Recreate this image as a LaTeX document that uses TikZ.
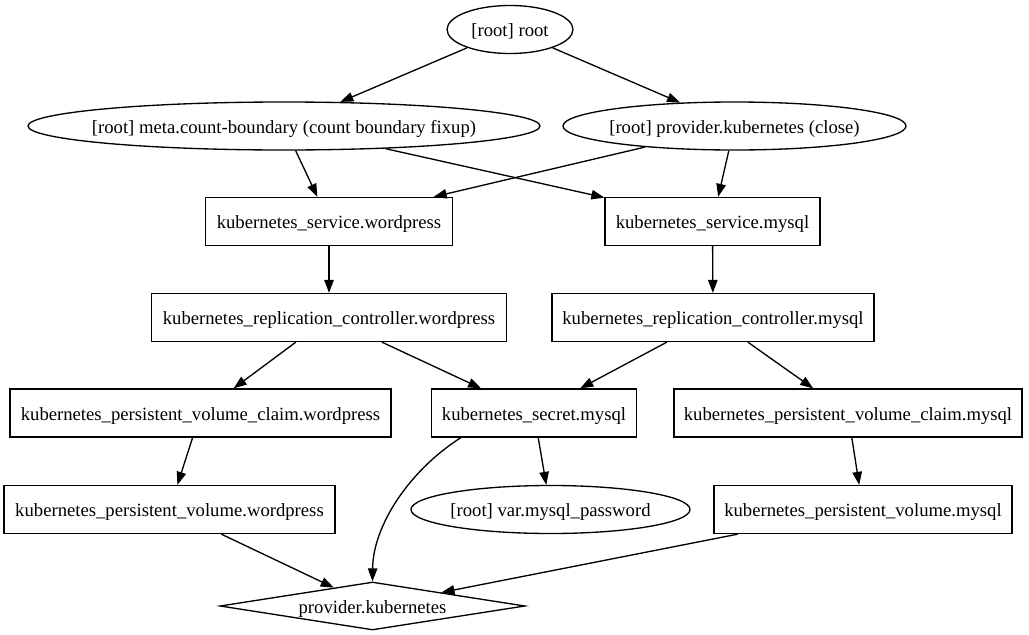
\documentclass[tikz,border=0pt]{standalone}
\usepackage{fontspec}
\setmainfont{Liberation Serif}
\usetikzlibrary{shapes.geometric,arrows.meta}
\begin{document}
\begin{tikzpicture}[x=1pt,y=-1pt,
  every node/.style={font=\fontsize{18.67}{22}\selectfont, line width=1.33pt, inner sep=0pt, text height=18pt, text depth=4pt},
  ell/.style={draw, ellipse, minimum height=48pt},
  boxn/.style={draw, rectangle, minimum height=48pt},
  dia/.style={draw, diamond, minimum height=48pt},
  edge/.style={line width=1.33pt, -{Triangle[length=13pt,width=9.5pt]}}
]
\fill[white] (0,0) rectangle (1029,635);
\useasboundingbox (0,0) rectangle (1029,635);

\node[ell, minimum width=126pt] (root) at (510,29.5) {\makebox[0pt]{[root] root}};
\node[ell, minimum width=512pt] (meta) at (284,126) {\makebox[0pt]{[root] meta.count-boundary (count boundary fixup)}};
\node[ell, minimum width=343pt] (pclose) at (734.5,126) {\makebox[0pt]{[root] provider.kubernetes (close)}};
\node[boxn, minimum width=247pt] (svcwp) at (329,221.5) {kubernetes\_service.wordpress};
\node[boxn, minimum width=215pt] (svcmy) at (712.5,221.5) {kubernetes\_service.mysql};
\node[boxn, minimum width=355pt] (rcwp) at (329,317.5) {kubernetes\_replication\_controller.wordpress};
\node[boxn, minimum width=322pt] (rcmy) at (713,317.5) {kubernetes\_replication\_controller.mysql};
\node[boxn, minimum width=381pt] (pvcwp) at (200.5,413) {kubernetes\_persistent\_volume\_claim.wordpress};
\node[boxn, minimum width=205pt] (secret) at (534,413) {kubernetes\_secret.mysql};
\node[boxn, minimum width=348pt] (pvcmy) at (848,413) {kubernetes\_persistent\_volume\_claim.mysql};
\node[boxn, minimum width=331pt] (pvwp) at (169.5,509.5) {kubernetes\_persistent\_volume.wordpress};
\node[ell, minimum width=279pt] (varpw) at (550.5,509.5) {\makebox[0pt]{[root] var.mysql\_password}};
\node[boxn, minimum width=298pt] (pvmy) at (863,509.5) {kubernetes\_persistent\_volume.mysql};
\node[dia, minimum width=305pt] (prov) at (372.5,606) {\makebox[0pt]{provider.kubernetes}};

\draw[edge] (root) -- (meta);
\draw[edge] (root) -- (pclose);
\draw[edge] (meta) -- (svcwp);
\draw[edge] (meta) -- (svcmy);
\draw[edge] (pclose) -- (svcwp);
\draw[edge] (pclose) -- (svcmy);
\draw[edge] (svcwp) -- (rcwp);
\draw[edge] (svcmy) -- (rcmy);
\draw[edge] (rcwp) -- (pvcwp);
\draw[edge] (rcwp) -- (secret);
\draw[edge] (rcmy) -- (secret);
\draw[edge] (rcmy) -- (pvcmy);
\draw[edge] (pvcwp) -- (pvwp);
\draw[edge] (secret) -- (varpw);
\draw[edge] (pvcmy) -- (pvmy);
\draw[edge] ([xshift=30pt]secret.south west) .. controls (410,470) and (373,525) .. (prov.north);
\draw[edge] (pvwp) -- (prov);
\draw[edge] (pvmy) -- (prov);
\end{tikzpicture}
\end{document}
